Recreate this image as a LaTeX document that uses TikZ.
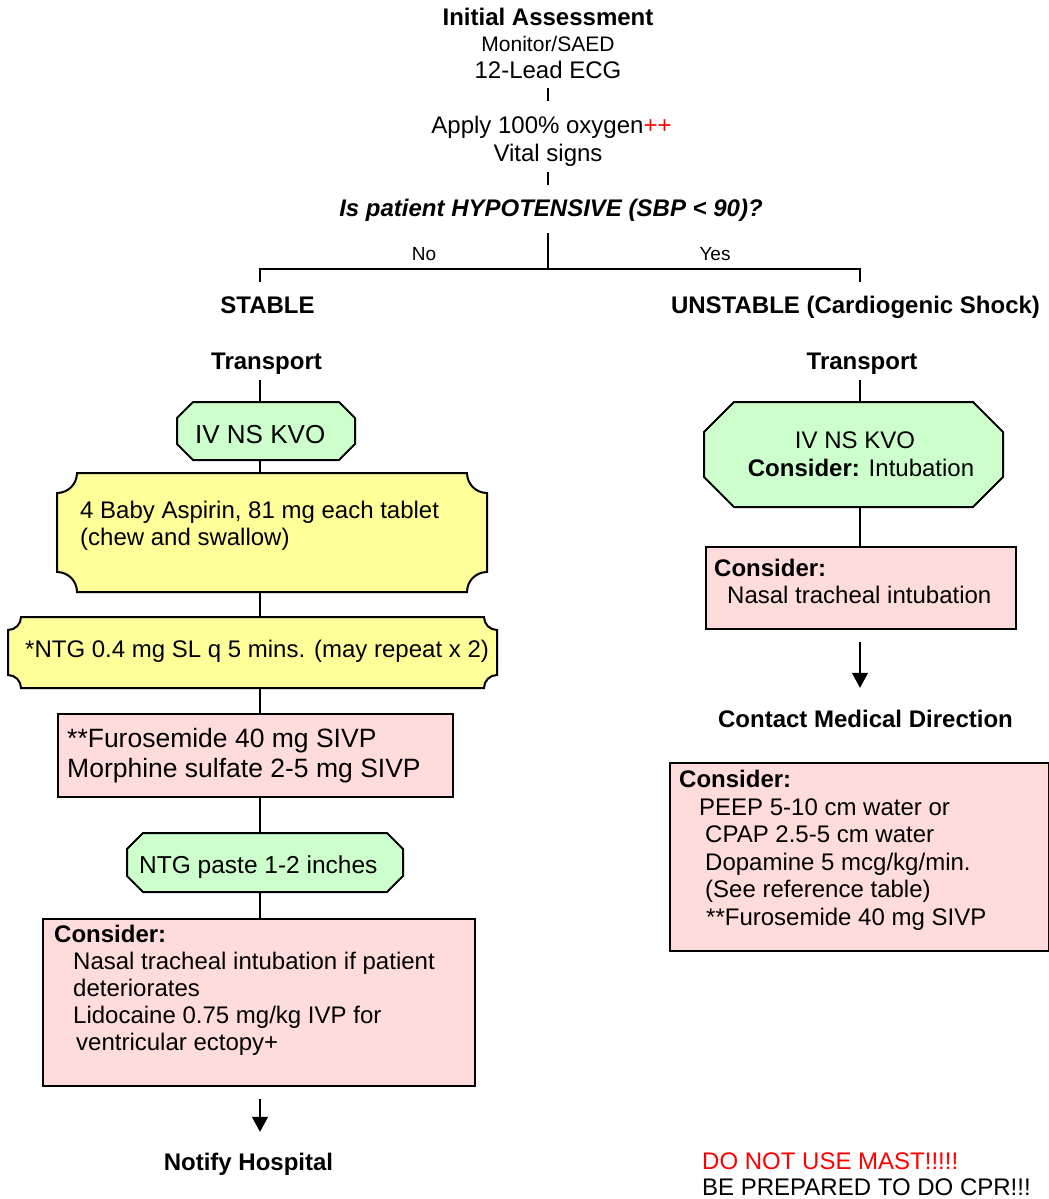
\documentclass[tikz,border=0pt]{standalone}
\usepackage{fontspec}
\setmainfont{Liberation Sans}
\usetikzlibrary{arrows.meta}

\definecolor{boxgreen}{HTML}{CCFFCC}
\definecolor{boxyellow}{HTML}{FFFF99}
\definecolor{boxpink}{HTML}{FFDCDC}

\newcommand\fsz[1]{\fontsize{#1}{#1}\selectfont}

% octagonal box: name, fill, x0, y0, x1, y1, chamfer
\newcommand\octbox[7]{%
  \node[region, minimum width={#5-#3}, minimum height={#6-#4}] (#1) at (#3,#4) {};
  \filldraw[boxline, fill=#2] (#3+#7,#4) -- (#5-#7,#4) -- (#5,#4+#7) -- (#5,#6-#7)
    -- (#5-#7,#6) -- (#3+#7,#6) -- (#3,#6-#7) -- (#3,#4+#7) -- cycle;}

% box with concave (scooped) corners: name, fill, x0, y0, x1, y1, radius
\newcommand\plaquebox[7]{%
  \node[region, minimum width={#5-#3}, minimum height={#6-#4}] (#1) at (#3,#4) {};
  \filldraw[boxline, fill=#2] (#3+#7,#4) -- (#5-#7,#4)
    .. controls (#5-#7,#4+0.5523*#7) and (#5-0.5523*#7,#4+#7) .. (#5,#4+#7)
    -- (#5,#6-#7)
    .. controls (#5-0.5523*#7,#6-#7) and (#5-#7,#6-0.5523*#7) .. (#5-#7,#6)
    -- (#3+#7,#6)
    .. controls (#3+#7,#6-0.5523*#7) and (#3+0.5523*#7,#6-#7) .. (#3,#6-#7)
    -- (#3,#4+#7)
    .. controls (#3+0.5523*#7,#4+#7) and (#3+#7,#4+0.5523*#7) .. (#3+#7,#4)
    -- cycle;}

\begin{document}
\begin{tikzpicture}[x=1pt,y=-1pt,
  txt/.style={inner sep=0pt, text height=17pt, text depth=5pt, font=\fsz{24}},
  hdr/.style={txt, font=\fsz{24}\bfseries},
  region/.style={rectangle, inner sep=0pt, anchor=north west},
  boxline/.style={line width=2pt, draw=black, line join=miter},
  conn/.style={line width=1.5pt, draw=black},
  arr/.style={conn, -{Triangle[length=15pt,width=16pt]}},
]
\fill[white] (0,0) rectangle (1049,1199);
\useasboundingbox (0,0) rectangle (1049,1199);

% ---------- header ----------
\node[hdr, anchor=base] (ttl) at (548,26) {Initial Assessment};
\node[txt, font=\fsz{21}, anchor=base] (mon) at (548,52) {Monitor/SAED};
\node[txt, anchor=base] (ecg) at (548,78) {12-Lead ECG};
\node[txt, anchor=base] (oxy) at (551.5,133) {Apply 100\% oxygen\textcolor{red}{++}};
\node[txt, anchor=base] (vit) at (548,161) {Vital signs};
\node[txt, font=\fsz{24}\bfseries\itshape, anchor=base] (hyp) at (551,216)
  {Is patient HYPOTENSIVE (SBP < 90)?};

\draw[conn, shorten <=5pt, shorten >=15pt] (ecg.south) -- (ecg.south |- oxy.north);
\draw[conn, shorten <=6pt, shorten >=14pt] (vit.south) -- (vit.south |- hyp.north);

% ---------- decision split ----------
\coordinate (jc) at (548,269);
\coordinate (jl) at (260,269);
\coordinate (jr) at (860,269);
\coordinate (jle) at (260,282);
\coordinate (jre) at (860,282);
\draw[conn, shorten <=12pt] (hyp.south -| jc) -- (jc);
\draw[conn] (jle) -- (jl) -- (jr) -- (jre);
\node[txt, font=\fsz{19}, anchor=base] (no) at (424,260) {No};
\node[txt, font=\fsz{19}, anchor=base] (yes) at (715,260) {Yes};

\node[hdr, anchor=base] (stab) at (267.5,313) {STABLE};
\node[hdr, anchor=base] (unst) at (855.5,313) {UNSTABLE (Cardiogenic Shock)};
\node[hdr, anchor=base] (trl) at (266.5,369) {Transport};
\node[hdr, anchor=base] (trr) at (862,369) {Transport};

\coordinate (lc) at (260,0);
\coordinate (rc) at (860,0);

% ---------- stable branch ----------
\octbox{ivl}{boxgreen}{177}{402}{355}{460}{16}
\node[txt, font=\fsz{26}, anchor=base west] (ivlt) at (195,443) {IV NS KVO};

\plaquebox{asp}{boxyellow}{57}{473}{487}{592}{20}
\node[txt, anchor=base west] (asp1) at (80,518) {4 Baby Aspirin, 81 mg each tablet};
\node[txt, anchor=base west] (asp2) at (80,545) {(chew and swallow)};

\plaquebox{ntg}{boxyellow}{8}{617}{497}{688}{13}
\node[txt, anchor=base west] (ntgt) at (25,657) {*NTG 0.4 mg SL q 5 mins. (may repeat x 2)};

\node[region, boxline, fill=boxpink, minimum width=395, minimum height=83] (furo) at (57,713) {};
\node[txt, font=\fsz{26.5}, anchor=base west] (furo1) at (67,747) {**Furosemide 40 mg SIVP};
\node[txt, font=\fsz{26.5}, anchor=base west] (furo2) at (67,777) {Morphine sulfate 2-5 mg SIVP};

\octbox{paste}{boxgreen}{127}{833}{403}{892}{16}
\node[txt, font=\fsz{24.5}, anchor=base west] (pastet) at (139,873) {NTG paste 1-2 inches};

\node[region, boxline, fill=boxpink, minimum width=432, minimum height=167] (consl) at (42,918) {};
\node[hdr, anchor=base west] (consl0) at (54,942) {Consider:};
\node[txt, anchor=base west] (consl1) at (73,969) {Nasal tracheal intubation if patient};
\node[txt, anchor=base west] (consl2) at (73,996) {deteriorates};
\node[txt, anchor=base west] (consl3) at (73,1023) {Lidocaine 0.75 mg/kg IVP for};
\node[txt, anchor=base west] (consl4) at (76,1050) {ventricular ectopy+};

\node[hdr, anchor=base] (notify) at (248.5,1170) {Notify Hospital};

\draw[conn, shorten <=6pt] (trl.south -| lc) -- (ivl.north -| lc);
\draw[conn] (ivl.south -| lc) -- (asp.north -| lc);
\draw[conn] (asp.south -| lc) -- (ntg.north -| lc);
\draw[conn] (ntg.south -| lc) -- (furo.north -| lc);
\draw[conn] (furo.south -| lc) -- (paste.north -| lc);
\draw[conn] (paste.south -| lc) -- (consl.north -| lc);
\draw[arr, shorten <=12pt, shorten >=21pt] (consl.south -| lc) -- (notify.north -| lc);

% ---------- unstable branch ----------
\octbox{ivr}{boxgreen}{704}{402}{1003}{507}{30}
\node[txt, anchor=base] (ivr1) at (855,448) {IV NS KVO};
\node[txt, anchor=base] (ivr2) at (861,476) {\textbf{Consider:} Intubation};

\node[region, boxline, fill=boxpink, minimum width=310, minimum height=82] (consr) at (705,546) {};
\node[hdr, anchor=base west] (consr0) at (714,576) {Consider:};
\node[txt, anchor=base west] (consr1) at (727,603) {Nasal tracheal intubation};

\node[hdr, anchor=base] (contact) at (865.5,727) {Contact Medical Direction};

\node[region, boxline, fill=boxpink, minimum width=379, minimum height=188] (consb) at (669,762) {};
\node[hdr, anchor=base west] (consb0) at (679,787) {Consider:};
\node[txt, anchor=base west] (consb1) at (699,815) {PEEP 5-10 cm water or};
\node[txt, anchor=base west] (consb2) at (705,842) {CPAP 2.5-5 cm water};
\node[txt, anchor=base west] (consb3) at (705,870) {Dopamine 5 mcg/kg/min.};
\node[txt, anchor=base west] (consb4) at (705,897) {(See reference table)};
\node[txt, anchor=base west] (consb5) at (706,925) {**Furosemide 40 mg SIVP};

\draw[conn, shorten <=6pt] (trr.south -| rc) -- (ivr.north -| rc);
\draw[conn] (ivr.south -| rc) -- (consr.north -| rc);
\draw[arr, shorten <=12pt, shorten >=22pt] (consr.south -| rc) -- (contact.north -| rc);

% ---------- warnings ----------
\node[txt, anchor=base west, text=red] (warn1) at (702,1169) {DO NOT USE MAST!!!!!};
\node[txt, anchor=base west] (warn2) at (702,1195) {BE PREPARED TO DO CPR!!!};
\end{tikzpicture}
\end{document}
